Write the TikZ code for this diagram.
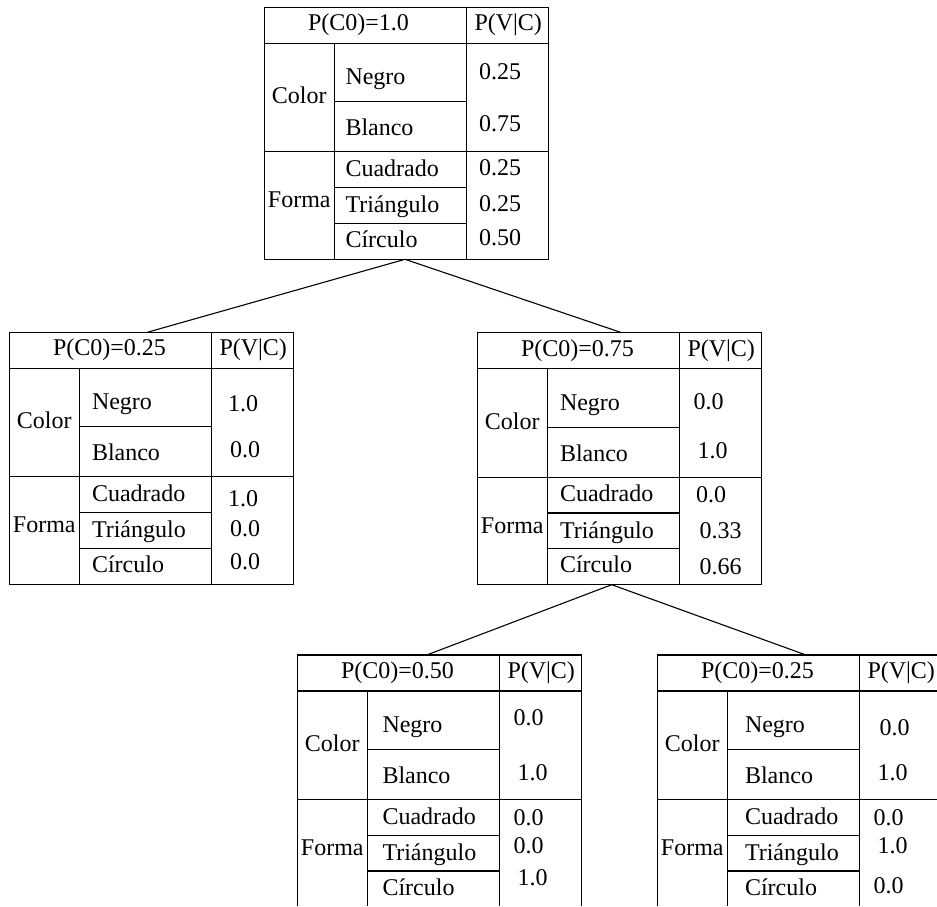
\documentclass[tikz,border=0pt]{standalone}
\usepackage{fontspec}
\setmainfont{Liberation Serif}
\usetikzlibrary{calc}

\tikzset{
  rule/.style={line width=1.1pt},
  frame/.style={draw, line width=1.1pt, inner sep=0pt, outer sep=0pt,
    minimum width=284pt, minimum height=252pt, anchor=north west},
  txt/.style={font=\fontsize{24}{28}\selectfont, inner sep=0pt, anchor=base west},
  ctxt/.style={font=\fontsize{24}{28}\selectfont, inner sep=0pt, anchor=base},
  link/.style={line width=1.1pt},
}

% One probability table: #1 name, #2/#3 top-left corner, #4 header, #5 label indent
\newcommand\cptable[5]{%
  \begin{scope}[shift={(#2,#3)}]
    \node[frame] (#1) at (0,0) {};
    \draw[rule] (0,36) -- (284,36);
    \draw[rule] (0,144.5) -- (284,144.5);
    \draw[rule] (70,36) -- (70,252);
    \draw[rule] (202,0) -- (202,252);
    \draw[rule] (70,94.5) -- (202,94.5);
    \draw[rule] (70,180.3) -- (202,180.3);
    \draw[rule] (70,216) -- (202,216);
    \node[txt] (#1-hdr) at (43.6,23.5) {#4};
    \node[txt] (#1-pvc) at (210,23.5) {P(V|C)};
    \node[ctxt] (#1-color) at (35,96.5) {Color};
    \node[ctxt] (#1-forma) at (35,200.5) {Forma};
    \node[txt] (#1-negro) at (70+#5,77.5) {Negro};
    \node[txt] (#1-blanco) at (70+#5,128.5) {Blanco};
    \node[txt] (#1-cuad) at (70+#5,169) {Cuadrado};
    \node[txt] (#1-tri) at (70+#5,205.5) {Triángulo};
    \node[txt] (#1-circ) at (70+#5,240) {Círculo};
  \end{scope}}

% A value in the P(V|C) column: #1 table, #2 key, #3 indent, #4 baseline, #5 text
\newcommand\pval[5]{%
  \node[txt] (#1-#2) at ($(#1.north west)+(202+#3,#4)$) {#5};}

\begin{document}
\begin{tikzpicture}[x=1pt,y=-1pt]
  \useasboundingbox (0,0) rectangle (937,907);
  \clip (0,0) rectangle (937,905);

  \cptable{root}{264.3}{7.3}{P(C0)=1.0}{11}
  \pval{root}{a}{12.7}{72.7}{0.25}
  \pval{root}{b}{12.7}{124.4}{0.75}
  \pval{root}{c}{12.7}{168.4}{0.25}
  \pval{root}{d}{12.7}{204.2}{0.25}
  \pval{root}{e}{12.7}{237.7}{0.50}

  \cptable{left}{9.3}{332.3}{P(C0)=0.25}{12.5}
  \pval{left}{a}{16.6}{79.5}{1.0}
  \pval{left}{b}{18.7}{125.5}{0.0}
  \pval{left}{c}{16.6}{174.5}{1.0}
  \pval{left}{d}{18.7}{204}{0.0}
  \pval{left}{e}{18.7}{237.5}{0.0}

  \cptable{mid}{477.3}{332.7}{P(C0)=0.75}{12.5}
  \pval{mid}{a}{14.1}{76.6}{0.0}
  \pval{mid}{b}{18}{125.6}{1.0}
  \pval{mid}{c}{16.7}{170}{0.0}
  \pval{mid}{d}{20.1}{205.6}{0.33}
  \pval{mid}{e}{20.1}{241.6}{0.66}

  \cptable{lowl}{297.3}{655}{P(C0)=0.50}{15}
  \pval{lowl}{a}{14.1}{70}{0.0}
  \pval{lowl}{b}{18}{125}{1.0}
  \pval{lowl}{c}{14.1}{170}{0.0}
  \pval{lowl}{d}{14.1}{198.3}{0.0}
  \pval{lowl}{e}{18}{230}{1.0}

  \cptable{lowr}{657.3}{655}{P(C0)=0.25}{17.5}
  \pval{lowr}{a}{20.1}{80}{0.0}
  \pval{lowr}{b}{18}{125}{1.0}
  \pval{lowr}{c}{14.1}{170}{0.0}
  \pval{lowr}{d}{18}{198.3}{1.0}
  \pval{lowr}{e}{14.1}{238.3}{0.0}

  % tree edges
  \draw[link] ($(root.south)+(-1.3,0)$) -- ($(left.north)+(-4,0)$);
  \draw[link] ($(root.south)+(-1.3,0)$) -- ($(mid.north)+(2.4,0)$);
  \draw[link] ($(mid.south)+(-7.6,0)$) -- ($(lowl.north)+(-12.6,0)$);
  \draw[link] ($(mid.south)+(-7.6,0)$) -- ($(lowr.north)+(6.7,0)$);
\end{tikzpicture}
\end{document}
